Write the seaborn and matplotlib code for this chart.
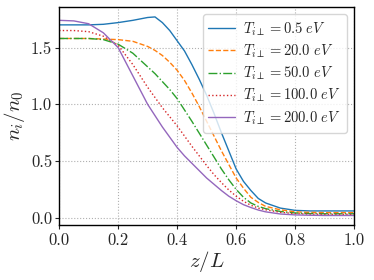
import matplotlib
matplotlib.use('Agg')
import matplotlib.pyplot as plt
from matplotlib.ticker import FormatStrFormatter
import pandas as pd
import seaborn as sns

# Data
z = [0.0, 0.05, 0.1, 0.15, 0.2, 0.25, 0.3, 0.325, 0.35, 0.375, 0.4, 0.425,
     0.45, 0.475, 0.5, 0.525, 0.55, 0.575, 0.6, 0.625, 0.65, 0.675, 0.7,
     0.75, 0.8, 0.85, 0.9, 0.95, 1.0]
n_05 = [1.70, 1.70, 1.70, 1.705, 1.72, 1.74, 1.765, 1.77, 1.72, 1.65, 1.56,
        1.47, 1.35, 1.22, 1.08, 0.92, 0.75, 0.59, 0.43, 0.32, 0.24, 0.17,
        0.13, 0.085, 0.065, 0.06, 0.06, 0.06, 0.06]
n_20 = [1.58, 1.58, 1.58, 1.575, 1.57, 1.555, 1.51, 1.475, 1.43, 1.37, 1.30,
        1.21, 1.10, 0.98, 0.85, 0.72, 0.59, 0.47, 0.35, 0.26, 0.18, 0.135,
        0.10, 0.07, 0.052, 0.047, 0.045, 0.045, 0.045]
n_50 = [1.58, 1.58, 1.58, 1.57, 1.53, 1.45, 1.33, 1.27, 1.20, 1.13, 1.05,
        0.95, 0.85, 0.745, 0.64, 0.535, 0.43, 0.335, 0.25, 0.18, 0.13, 0.10,
        0.08, 0.055, 0.042, 0.037, 0.035, 0.035, 0.035]
n_100 = [1.65, 1.65, 1.64, 1.60, 1.52, 1.35, 1.15, 1.06, 0.97, 0.89, 0.81,
         0.72, 0.63, 0.545, 0.46, 0.38, 0.31, 0.245, 0.19, 0.145, 0.11,
         0.085, 0.07, 0.048, 0.036, 0.032, 0.03, 0.03, 0.03]
n_200 = [1.74, 1.735, 1.71, 1.63, 1.50, 1.25, 1.00, 0.90, 0.80, 0.71, 0.62,
         0.545, 0.48, 0.415, 0.35, 0.295, 0.24, 0.19, 0.15, 0.115, 0.09,
         0.068, 0.052, 0.033, 0.025, 0.022, 0.02, 0.02, 0.02]
temps = ['0.5', '20.0', '50.0', '100.0', '200.0']
series = [n_05, n_20, n_50, n_100, n_200]
styles = ['-', '--', '-.', ':', '-']

sns.set_style('whitegrid', {'grid.linestyle': ':', 'grid.color': '#b0b0b0',
                            'axes.edgecolor': 'black'})
plt.rcParams['font.family'] = 'serif'
plt.rcParams['font.serif'] = ['cmr10', 'DejaVu Serif']
plt.rcParams['mathtext.fontset'] = 'cm'
plt.rcParams['axes.formatter.use_mathtext'] = True

colors = sns.color_palette('tab10')

fig, ax = plt.subplots(figsize=(3.74, 2.8), dpi=100)
for i, (t, n) in enumerate(zip(temps, series)):
    df = pd.DataFrame({'z': z, 'n': n})
    sns.lineplot(data=df, x='z', y='n', ax=ax, color=colors[i],
                 linestyle=styles[i], linewidth=1.0,
                 label=r'$T_{i\perp} = ' + t + r'\ eV$')

ax.set_xlim(0, 1)
ax.set_xticks([0, 0.2, 0.4, 0.6, 0.8, 1.0])
ax.set_yticks([0.0, 0.5, 1.0, 1.5])
ax.xaxis.set_major_formatter(FormatStrFormatter('%.1f'))
ax.yaxis.set_major_formatter(FormatStrFormatter('%.1f'))
ax.set_xlabel(r'$z/L$', fontsize=15, labelpad=1)
ax.set_ylabel(r'$n_i/n_0$', fontsize=15, labelpad=3)
ax.tick_params(labelsize=12, length=3, width=0.8, left=True, bottom=True,
               pad=2)
for s in ax.spines.values():
    s.set_linewidth(1.0)
ax.legend(loc='upper right', fontsize=10.5, frameon=True, handlelength=1.8,
          labelspacing=0.33, borderpad=0.4, handletextpad=0.6,
          borderaxespad=0.5)

fig.subplots_adjust(left=0.158, right=0.947, top=0.975, bottom=0.195)
fig.savefig('out.png', dpi=100)
